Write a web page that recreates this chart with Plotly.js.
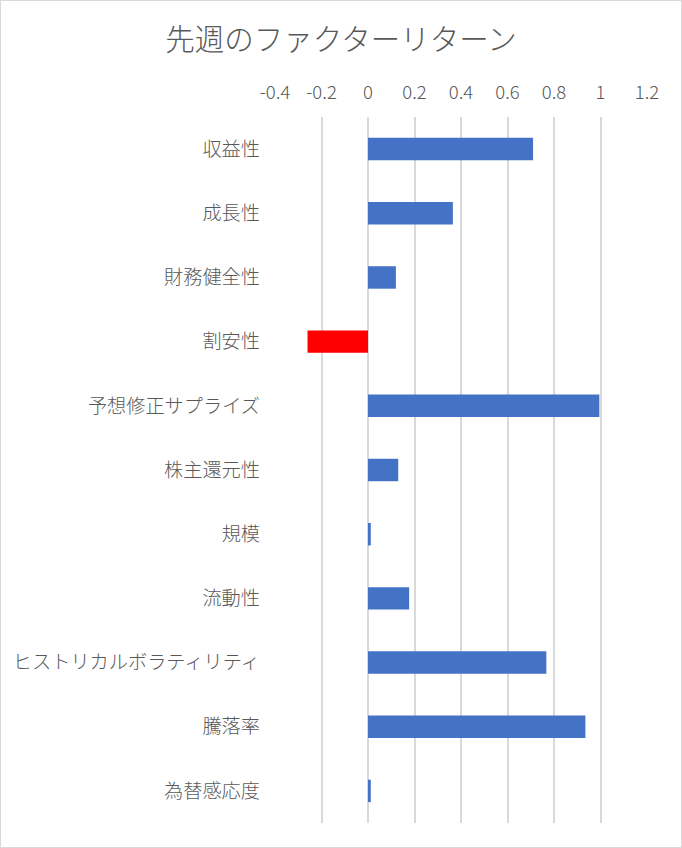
<!DOCTYPE html>
<html>
<head>
<meta charset="utf-8">
<script src="https://cdn.plot.ly/plotly-3.0.1.min.js"></script>
<style>
  html, body { margin: 0; padding: 0; background: #fff; }
  #frame { width: 682px; height: 848px; box-sizing: border-box; border: 1px solid #d9d9d9; }
  #chart { width: 680px; height: 846px; }
</style>
</head>
<body>
<div id="frame"><div id="chart"></div></div>
<script>
'use strict';

/* ============================================================
   DATA – factor returns of last week
   ============================================================ */
var factors = ['収益性', '成長性', '財務健全性', '割安性', '予想修正サプライズ',
               '株主還元性', '規模', '流動性', 'ヒストリカルボラティリティ',
               '騰落率', '為替感応度'];
var returns = [0.71, 0.365, 0.12, -0.26, 0.995, 0.13, 0.012, 0.177, 0.767, 0.935, 0.012];
var tickVals = [-0.4, -0.2, 0, 0.2, 0.4, 0.6, 0.8, 1, 1.2];
var tickText = ['-0.4', '-0.2', '0', '0.2', '0.4', '0.6', '0.8', '1', '1.2'];

var POS_COLOR = '#4472C4';
var NEG_COLOR = '#FF0000';
var FONT      = '"Noto Sans CJK JP", "Noto Sans", sans-serif';

/* Excel "invert if negative" – red for negative bars */
var barColors = returns.map(function (v) { return v < 0 ? NEG_COLOR : POS_COLOR; });

Plotly.newPlot('chart', [{
  type: 'bar', orientation: 'h',
  y: factors, x: returns,
  marker: { color: barColors },
  hoverinfo: 'y+x'
}], {
  width: 680, height: 846,
  font: { family: FONT, color: '#595959' },
  paper_bgcolor: '#fff', plot_bgcolor: '#fff',
  margin: { t: 116, r: 34, b: 24, l: 274 },
  title: {
    text: '先週のファクターリターン',
    font: { family: FONT, size: 29.5, weight: 300, color: '#595959' },
    xref: 'container', x: 0.5, xanchor: 'center',
    yref: 'container', y: 1 - 39 / 846, yanchor: 'middle'
  },
  bargap: 0.65,
  xaxis: {
    side: 'top',
    range: [-0.4, 1.2],
    tickvals: tickVals, ticktext: tickText,
    tickfont: { family: FONT, size: 18.5, weight: 300, color: '#595959' },
    showgrid: true, gridcolor: '#d9d9d9', gridwidth: 2,
    zeroline: false, showline: false, ticks: '',
    ticklabelstandoff: 13, fixedrange: true
  },
  yaxis: {
    autorange: 'reversed',
    tickfont: { family: FONT, size: 19.2, weight: 300, color: '#595959' },
    showgrid: false, zeroline: false, showline: false, ticks: '',
    ticklabelstandoff: 14, fixedrange: true
  },
  showlegend: false
}, { displayModeBar: false, staticPlot: true });
</script>
</body>
</html>
